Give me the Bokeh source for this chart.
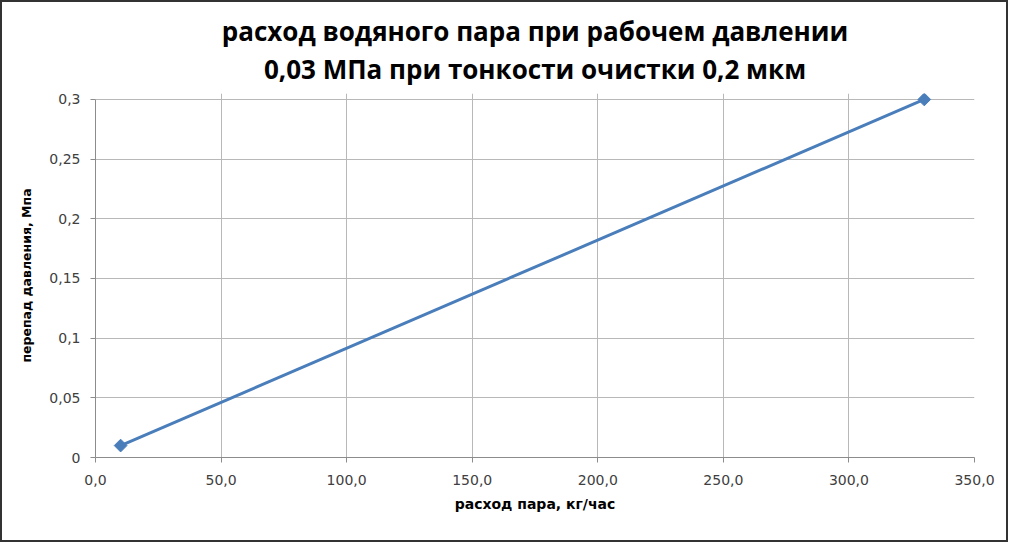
from bokeh.plotting import figure
from bokeh.models import Title, Range1d, FixedTicker
from bokeh.embed import file_html
from bokeh.resources import INLINE
import math

# data
flow = [10.0, 330.0]          # расход пара, кг/час
dp = [0.01, 0.30]             # перепад давления, МПа

x_ticks = [0, 50, 100, 150, 200, 250, 300, 350]
x_tick_labels = ["0,0", "50,0", "100,0", "150,0", "200,0", "250,0", "300,0", "350,0"]
y_ticks = [0, 0.05, 0.1, 0.15, 0.2, 0.25, 0.3]
y_tick_labels = ["0", "0,05", "0,1", "0,15", "0,2", "0,25", "0,3"]

title_line1 = "расход водяного пара при рабочем давлении"
title_line2 = "0,03 МПа при тонкости очистки 0,2 мкм"
x_label = "расход пара, кг/час"
y_label = "перепад давления, Мпа"

FONT = "DejaVu Sans"
TFONT = "Open Sans"
LINE_COLOR = "#4a7ebb"
GRID = "#b8b8b8"
AXIS = "#8c8c8c"

p = figure(width=1008, height=542, output_backend="svg", toolbar_location=None,
           x_range=Range1d(0, 350), y_range=Range1d(0, 0.305), title=None,
           min_border_left=93, min_border_right=36, min_border_bottom=87,
           min_border_top=10)
p.styles = {"border": "2px solid #333333", "box-sizing": "border-box"}

spacer_bottom = Title(text=" ", text_font_size="2px", standoff=3)
t2 = Title(text=title_line2, align="center", text_font=TFONT, text_font_size="26px",
           text_font_style="bold", text_color="#000000", standoff=0)
t1 = Title(text=title_line1, align="center", text_font=TFONT, text_font_size="26px",
           text_font_style="bold", text_color="#000000", standoff=0)
spacer_top = Title(text=" ", text_font_size="2px", standoff=4)
p.add_layout(spacer_bottom, "above")
p.add_layout(t2, "above")
p.add_layout(t1, "above")
p.add_layout(spacer_top, "above")

p.outline_line_color = None
p.background_fill_color = "white"
p.border_fill_color = "white"

for ax, ticks, labels in ((p.xaxis, x_ticks, x_tick_labels), (p.yaxis, y_ticks, y_tick_labels)):
    ax.ticker = FixedTicker(ticks=ticks)
    ax.major_label_overrides = {t: l for t, l in zip(ticks, labels)}
    ax.axis_line_color = AXIS
    ax.major_tick_line_color = AXIS
    ax.major_tick_out = 5
    ax.major_tick_in = 0
    ax.minor_tick_line_color = None
    ax.major_label_text_font = FONT
    ax.major_label_text_font_size = "14px"
    ax.major_label_text_color = "#404040"
    ax.axis_label_text_font = FONT
    ax.axis_label_text_font_style = "bold"
    ax.axis_label_text_color = "#000000"

p.yaxis.bounds = (y_ticks[0], y_ticks[-1])
p.xaxis.axis_label = x_label
p.yaxis.axis_label = y_label
p.xaxis.axis_label_text_font_size = "14px"
p.yaxis.axis_label_text_font_size = "12.5px"
p.xaxis.major_label_standoff = 12
p.yaxis.major_label_standoff = 10
p.xaxis.axis_label_standoff = 8
p.yaxis.axis_label_standoff = 12

p.xgrid.ticker = FixedTicker(ticks=x_ticks)
p.ygrid.ticker = FixedTicker(ticks=y_ticks)
p.xgrid.bounds = (y_ticks[0], y_ticks[-1])
p.grid.grid_line_color = GRID
p.grid.grid_line_width = 1

p.line(flow, dp, line_color=LINE_COLOR, line_width=3)
p.scatter(flow, dp, marker="square", size=9, angle=math.pi / 4,
          fill_color=LINE_COLOR, line_color=LINE_COLOR)

open("out.html", "w").write(file_html(p, INLINE))
